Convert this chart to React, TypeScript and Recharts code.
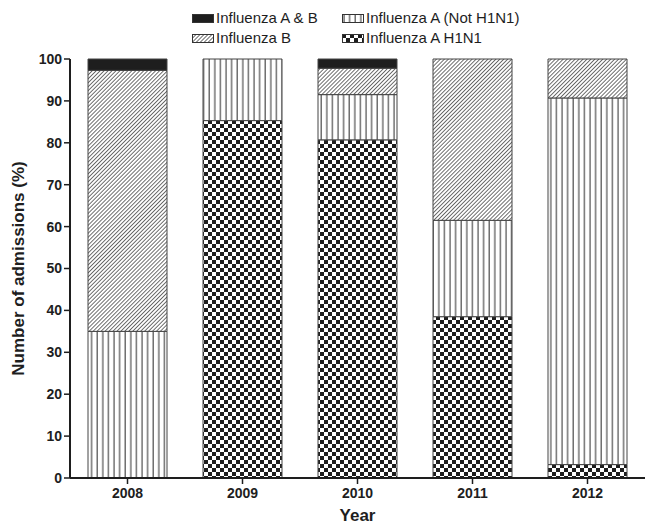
import React from 'react';
import { BarChart, Bar, XAxis, YAxis, Legend } from 'recharts';

const years = ['2008', '2009', '2010', '2011', '2012'];
const h1n1 = [0, 85.3, 80.7, 38.5, 3.2];
const notH1n1 = [35, 14.7, 10.8, 23, 87.5];
const fluB = [62.3, 0, 6.3, 38.5, 9.3];
const fluAB = [2.7, 0, 2.2, 0, 0];
const yTicks = [0, 10, 20, 30, 40, 50, 60, 70, 80, 90, 100];

const data = years.map((year, i) => ({
  year,
  h1n1: h1n1[i],
  notH1n1: notH1n1[i],
  fluB: fluB[i],
  fluAB: fluAB[i],
}));

const FONT = '"Liberation Sans", Arial, sans-serif';
const INK = '#1e1e1e';

const legendItems = [
  { label: 'Influenza A & B', fill: INK, x: 192, y: 8 },
  { label: 'Influenza A (Not H1N1)', fill: 'url(#vlines)', x: 342, y: 8 },
  { label: 'Influenza B', fill: 'url(#diag)', x: 192, y: 28 },
  { label: 'Influenza A H1N1', fill: 'url(#checker)', x: 342, y: 28 },
];

const ChartLegend = () => (
  <div style={{ position: 'relative', width: 646, height: 50, fontFamily: FONT }}>
    {legendItems.map((item) => (
      <div
        key={item.label}
        style={{ position: 'absolute', left: item.x, top: item.y, display: 'flex', alignItems: 'center', height: 20 }}
      >
        <svg width={22} height={9} style={{ marginRight: 2 }}>
          <rect x={0.5} y={0.5} width={21} height={8} fill={item.fill} stroke="#333" strokeWidth={1} />
        </svg>
        <span style={{ fontSize: 15, color: INK, lineHeight: '20px' }}>{item.label}</span>
      </div>
    ))}
  </div>
);

const App = () => {
  return (
    <div style={{ position: 'absolute', left: 0, top: 0 }}>
      <BarChart
        width={646}
        height={527}
        data={data}
        margin={{ top: 9, right: 1, bottom: 0, left: 0 }}
        barSize={79}
      >
        <defs>
          <pattern id="checker" width={8} height={8} patternUnits="userSpaceOnUse">
            <rect width={8} height={8} fill="#fff" />
            <rect width={4} height={4} fill={INK} />
            <rect x={4} y={4} width={4} height={4} fill={INK} />
          </pattern>
          <pattern id="vlines" width={5.6} height={10} patternUnits="userSpaceOnUse">
            <rect width={5.6} height={10} fill="#fff" />
            <line x1={2} y1={0} x2={2} y2={10} stroke="#2a2a2a" strokeWidth={1} />
          </pattern>
          <pattern id="diag" width={2.8} height={3} patternUnits="userSpaceOnUse" patternTransform="rotate(45)">
            <rect width={2.8} height={3} fill="#fff" />
            <line x1={0} y1={0} x2={0} y2={3} stroke="#222" strokeWidth={1.3} />
          </pattern>
        </defs>
        <Legend
          verticalAlign="top"
          wrapperStyle={{ top: 0, left: 0 }}
          content={() => <ChartLegend />}
        />
        <XAxis
          dataKey="year"
          height={49}
          axisLine={{ stroke: INK, strokeWidth: 2 }}
          tickLine={{ stroke: INK, strokeWidth: 1.5 }}
          tickSize={6}
          tickMargin={4}
          tick={{ fill: INK, fontSize: 14, fontWeight: 'bold', fontFamily: FONT }}
          label={{
            value: 'Year',
            position: 'insideBottom',
            offset: 6,
            fill: INK,
            fontSize: 17,
            fontWeight: 'bold',
            fontFamily: FONT,
          }}
        />
        <YAxis
          width={70}
          domain={[0, 100]}
          ticks={yTicks}
          interval={0}
          axisLine={{ stroke: INK, strokeWidth: 2 }}
          tickLine={{ stroke: INK, strokeWidth: 1.5 }}
          tickSize={6}
          tickMargin={2}
          tick={{ fill: INK, fontSize: 14, fontWeight: 'bold', fontFamily: FONT }}
          label={{
            value: 'Number of admissions (%)',
            angle: -90,
            position: 'center',
            dx: -17,
            fill: INK,
            fontSize: 17,
            fontWeight: 'bold',
            fontFamily: FONT,
          }}
        />
        <Bar dataKey="h1n1" stackId="s" fill="url(#checker)" stroke="#444" strokeWidth={1} isAnimationActive={false} />
        <Bar dataKey="notH1n1" stackId="s" fill="url(#vlines)" stroke="#444" strokeWidth={1} isAnimationActive={false} />
        <Bar dataKey="fluB" stackId="s" fill="url(#diag)" stroke="#444" strokeWidth={1} isAnimationActive={false} />
        <Bar dataKey="fluAB" stackId="s" fill={INK} stroke="#444" strokeWidth={1} isAnimationActive={false} />
      </BarChart>
    </div>
  );
};

export default App;
